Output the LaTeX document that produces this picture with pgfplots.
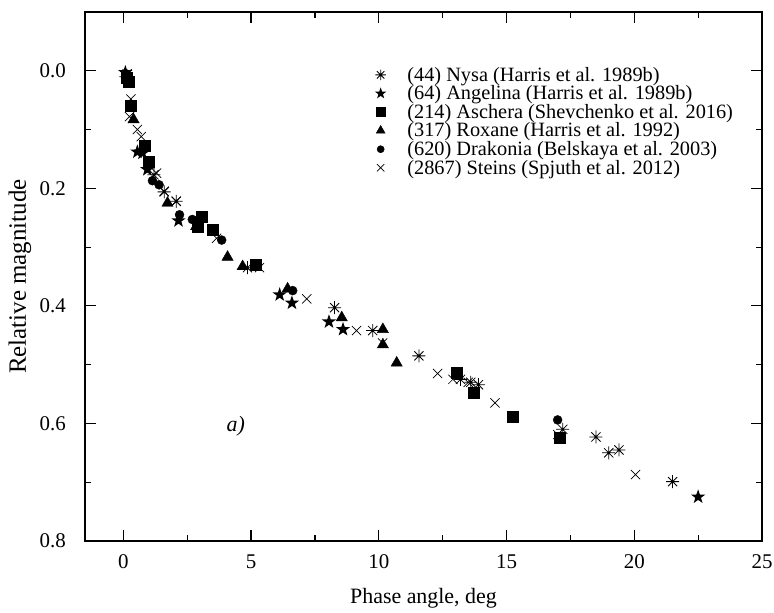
\documentclass[border=0pt]{standalone}
\usepackage{fontspec}
\setmainfont{Liberation Serif}
\usepackage{pgfplots}
\pgfplotsset{compat=1.18}

% eight-armed asterisk and filled five-point star
\pgfdeclareplotmark{ast8}{%
  \pgfpathmoveto{\pgfqpoint{0pt}{\pgfplotmarksize}}\pgfpathlineto{\pgfqpoint{0pt}{-\pgfplotmarksize}}%
  \pgfpathmoveto{\pgfqpoint{\pgfplotmarksize}{0pt}}\pgfpathlineto{\pgfqpoint{-\pgfplotmarksize}{0pt}}%
  \pgfpathmoveto{\pgfpointpolar{45}{\pgfplotmarksize}}\pgfpathlineto{\pgfpointpolar{225}{\pgfplotmarksize}}%
  \pgfpathmoveto{\pgfpointpolar{135}{\pgfplotmarksize}}\pgfpathlineto{\pgfpointpolar{315}{\pgfplotmarksize}}%
  \pgfusepathqstroke}
\pgfdeclareplotmark{fstar}{%
  \pgfpathmoveto{\pgfpointpolar{90}{\pgfplotmarksize}}%
  \pgfpathlineto{\pgfpointpolar{126}{0.4\pgfplotmarksize}}%
  \pgfpathlineto{\pgfpointpolar{162}{\pgfplotmarksize}}%
  \pgfpathlineto{\pgfpointpolar{198}{0.4\pgfplotmarksize}}%
  \pgfpathlineto{\pgfpointpolar{234}{\pgfplotmarksize}}%
  \pgfpathlineto{\pgfpointpolar{270}{0.4\pgfplotmarksize}}%
  \pgfpathlineto{\pgfpointpolar{306}{\pgfplotmarksize}}%
  \pgfpathlineto{\pgfpointpolar{342}{0.4\pgfplotmarksize}}%
  \pgfpathlineto{\pgfpointpolar{18}{\pgfplotmarksize}}%
  \pgfpathlineto{\pgfpointpolar{54}{0.4\pgfplotmarksize}}%
  \pgfpathclose\pgfusepathqfill}

\begin{document}
\begin{tikzpicture}
\begin{axis}[
  scale only axis, width=677bp, height=529bp,
  xmin=-1.5, xmax=25, ymin=-0.1, ymax=0.8, y dir=reverse,
  xtick={0,5,10,15,20,25}, xticklabels={0,5,10,15,20,25},
  ytick={0,0.2,0.4,0.6,0.8}, yticklabels={0.0,0.2,0.4,0.6,0.8},
  minor x tick num=1, minor y tick num=1,
  major tick length=11bp, minor tick length=6bp,
  axis line style={line width=1.5bp},
  every tick/.style={line width=1.2bp, black},
  tick align=inside,
  tick label style={font=\fontsize{21}{24}\selectfont},
  xticklabel style={anchor=center, yshift=-21bp},
  yticklabel style={anchor=east, inner sep=0pt, xshift=-19bp},
  every axis x label/.style={at={(rel axis cs:0.5,0)}, yshift=-57bp, anchor=center,
    font=\fontsize{22}{26}\selectfont},
  every axis y label/.style={at={(rel axis cs:0,0.5)}, xshift=-65bp, rotate=90, anchor=center,
    font=\fontsize{25}{28}\selectfont},
  xlabel={Phase angle, deg},
  ylabel={Relative magnitude},
  legend style={draw=none, fill=none, at={(0.428,0.9)}, anchor=north west,
    font=\fontsize{20.4}{22}\selectfont, row sep=-1bp, inner sep=0pt,
    /tikz/every odd column/.append style={column sep=19bp}},
  legend image code/.code={\draw[#1, mark size=0.8*\pgfplotmarksize] plot coordinates {(0bp,0bp)};},
  legend cell align=left,
  every axis plot/.append style={only marks, black},
]
\addplot[mark=ast8, mark size=6.5bp, line width=0.8bp] coordinates {
(0.1,0.01) (1.2,0.177) (1.6,0.206) (2.07,0.222) (4.86,0.335) (8.27,0.403)
(9.76,0.442) (11.57,0.485) (13.2,0.525) (13.6,0.53) (13.9,0.534) (17.2,0.61)
(18.5,0.623) (19.0,0.65) (19.4,0.645) (21.5,0.699)};
\addlegendentry{(44) Nysa (Harris et al. 1989b)}
\addplot[mark=fstar, mark size=7.5bp] coordinates {
(0.08,0.003) (0.55,0.138) (0.75,0.14) (0.94,0.168) (2.16,0.255) (6.12,0.381)
(6.6,0.395) (8.05,0.427) (8.6,0.44) (22.5,0.725)};
\addlegendentry{(64) Angelina (Harris et al. 1989b)}
\addplot[mark=square*, mark size=5.5bp] coordinates {
(0.12,0.012) (0.2,0.018) (0.3,0.06) (0.82,0.128) (1.0,0.155) (2.9,0.265)
(3.06,0.248) (3.5,0.27) (5.2,0.33) (13.06,0.514) (13.7,0.548) (15.25,0.588)
(17.1,0.624)};
\addlegendentry{(214) Aschera (Shevchenko et al. 2016)}
\addplot[mark=triangle*, mark size=6.5bp] coordinates {
(0.4,0.083) (1.0,0.16) (1.73,0.225) (2.85,0.265) (4.08,0.317) (4.67,0.333)
(6.43,0.371) (8.55,0.42) (10.16,0.44) (10.16,0.466) (10.7,0.497)};
\addlegendentry{(317) Roxane (Harris et al. 1992)}
\addplot[mark=*, mark size=4.5bp] coordinates {
(0.1,0.005) (1.14,0.187) (1.4,0.194) (2.2,0.245) (2.7,0.253) (3.85,0.288)
(6.63,0.374) (17.0,0.594)};
\addlegendentry{(620) Drakonia (Belskaya et al. 2003)}
\addplot[mark=x, mark size=6.5bp, line width=0.7bp] coordinates {
(0.15,0.005) (0.3,0.048) (0.24,0.078) (0.55,0.1) (0.7,0.112) (1.3,0.174)
(1.6,0.205) (2.07,0.222) (3.65,0.285) (5.33,0.335) (7.18,0.388) (9.13,0.442)
(10.15,0.463) (12.3,0.515) (12.9,0.525) (13.5,0.53) (14.55,0.565) (17.0,0.619)
(20.05,0.687)};
\addlegendentry{(2867) Steins (Spjuth et al. 2012)}
\node[font=\itshape\fontsize{22}{24}\selectfont] at (axis cs:4.4,0.605) {a)};
\end{axis}
\pgfresetboundingbox
\path ([xshift=-85bp,yshift=-72bp]current axis.south west) rectangle ([xshift=12bp,yshift=12bp]current axis.north east);
\end{tikzpicture}
\end{document}
